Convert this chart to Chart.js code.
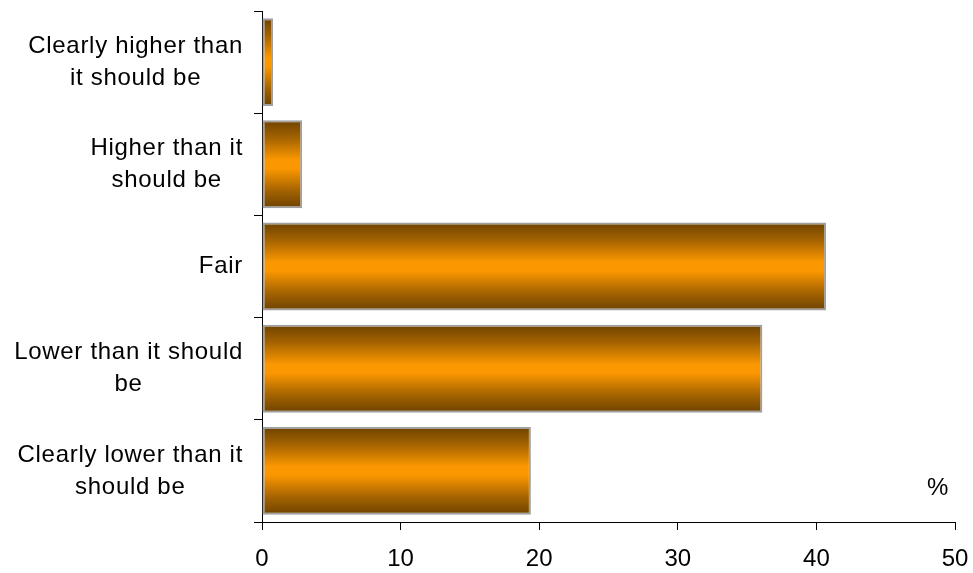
<!DOCTYPE html>
<html>
<head>
<meta charset="utf-8">
<script src="https://cdn.jsdelivr.net/npm/chart.js@4"></script>
<style>
  body { margin: 0; background: #fff; }
</style>
</head>
<body>
<canvas id="myChart" width="973" height="573"></canvas>
<script>
// answer categories, top to bottom
const categories = [
  ['Clearly higher than', 'it should be'],
  ['Higher than it', 'should be'],
  ['Fair'],
  ['Lower than it should', 'be'],
  ['Clearly lower than it', 'should be'],
];
// share of answers, %
const shares = [0.8, 2.9, 40.7, 36.1, 19.4];
const xTicks = [0, 10, 20, 30, 40, 50];
const unitLabel = '%';

const fontFamily = 'Arial, "Liberation Sans", Helvetica, sans-serif';

function barGradient(ctx) {
  const chart = ctx.chart;
  const yScale = chart.scales.y;
  if (!chart.chartArea || !yScale || ctx.dataIndex === undefined) return '#ff9900';
  const center = yScale.getPixelForValue(ctx.dataIndex);
  const band = Math.abs(yScale.getPixelForValue(1) - yScale.getPixelForValue(0));
  const half = band * 0.86 / 2;
  const g = chart.ctx.createLinearGradient(0, center - half, 0, center + half);
  g.addColorStop(0, '#6e4200');
  g.addColorStop(0.2, '#a46300');
  g.addColorStop(0.45, '#fb9700');
  g.addColorStop(0.55, '#fb9700');
  g.addColorStop(0.8, '#a46300');
  g.addColorStop(1, '#6e4200');
  return g;
}

// left labels: lines centred on each other, block right-aligned to the axis
const categoryLabels = {
  id: 'categoryLabels',
  afterDraw(chart) {
    const { ctx } = chart;
    const yScale = chart.scales.y;
    const right = chart.chartArea.left - 19;
    const lineHeight = 32;
    ctx.save();
    ctx.font = '24px ' + fontFamily;
    ctx.letterSpacing = '0.7px';
    ctx.fillStyle = '#000';
    ctx.textAlign = 'center';
    ctx.textBaseline = 'middle';
    categories.forEach((lines, i) => {
      const maxW = Math.max(...lines.map((l) => ctx.measureText(l).width));
      const cx = right - maxW / 2;
      const cy = yScale.getPixelForValue(i);
      lines.forEach((line, j) => {
        ctx.fillText(line, cx, cy + (j - (lines.length - 1) / 2) * lineHeight);
      });
    });
    // unit label in the lower right corner of the plot
    ctx.fillText(unitLabel, chart.chartArea.right - 17, chart.chartArea.bottom - 34);
    ctx.restore();
  },
};

new Chart(document.getElementById('myChart'), {
  type: 'bar',
  data: {
    labels: categories.map((c) => c.join(' ')),
    datasets: [
      {
        data: shares,
        backgroundColor: barGradient,
        borderColor: '#a0a0a0',
        borderWidth: 2,
        borderSkipped: false,
        categoryPercentage: 1,
        barPercentage: 0.86,
      },
    ],
  },
  options: {
    indexAxis: 'y',
    responsive: false,
    animation: false,
    layout: { padding: { top: 11, right: 18, left: 0, bottom: 0 } },
    plugins: {
      legend: { display: false },
      tooltip: { enabled: false },
    },
    scales: {
      x: {
        min: 0,
        max: 50,
        afterBuildTicks: (scale) => {
          scale.ticks = xTicks.map((v) => ({ value: v }));
        },
        afterFit: (scale) => {
          scale.height = 51;
          scale.paddingLeft = 0;
          scale.paddingRight = 0;
        },
        grid: {
          drawOnChartArea: false,
          drawTicks: true,
          tickLength: 8,
          color: '#000',
        },
        border: { color: '#000', width: 1 },
        ticks: {
          color: '#000',
          padding: 15,
          maxRotation: 0,
          font: { size: 24, family: fontFamily },
        },
      },
      y: {
        afterFit: (scale) => {
          scale.width = 262;
          scale.paddingTop = 0;
          scale.paddingBottom = 0;
        },
        grid: {
          drawOnChartArea: false,
          drawTicks: true,
          tickLength: 8,
          color: '#000',
        },
        border: { color: '#000', width: 1 },
        ticks: { display: false },
      },
    },
  },
  plugins: [categoryLabels],
});
</script>
</body>
</html>
